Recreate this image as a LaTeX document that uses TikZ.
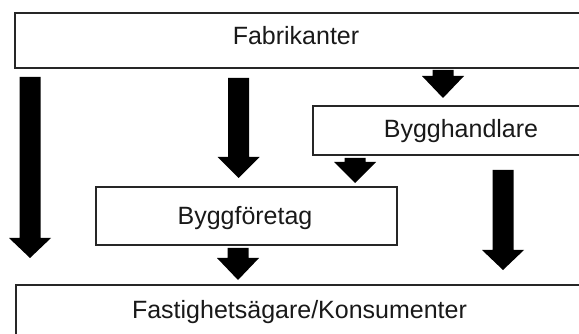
\documentclass[tikz,border=0pt]{standalone}
\usepackage{fontspec}
\setmainfont{Liberation Sans}
\newcommand\blkarrow[4]{%
  \fill[black] (#1-10.5,#2) -- (#1+10.5,#2) -- (#1+10.5,#3) -- (#1+21,#3)
    -- (#1,#4) -- (#1-21,#3) -- (#1-10.5,#3) -- cycle;}
\begin{document}
\begin{tikzpicture}[x=1pt,y=-1pt,
  box/.style={draw=black!85,line width=1.9pt,rectangle,inner sep=0pt,outer sep=0pt,anchor=north west},
  lbl/.style={anchor=base,font=\fontsize{25}{30}\selectfont,inner sep=0pt,text=black!90}]
\useasboundingbox (0,0) rectangle (579,334);
\fill[white] (0,0) rectangle (579,334);
% boxes
\node[box,minimum width=600pt,minimum height=55pt] (fab) at (15,12.7) {};
\node[box,minimum width=320pt,minimum height=49pt] (handel) at (313,106) {};
\node[box,minimum width=301pt,minimum height=58pt] (foretag) at (96,187) {};
\node[box,minimum width=600pt,minimum height=60pt] (fast) at (16,285) {};
% labels
\node[lbl] (tfab) at (296,45) {Fabrikanter};
\node[lbl] (thandel) at (461,138) {Bygghandlare};
\node[lbl] (tforetag) at (245,225) {Byggföretag};
\node[lbl] (tfast) at (299.5,318) {Fastighetsägare/Konsumenter};
% block arrows
\blkarrow{30}{77}{238}{258}
\blkarrow{238.5}{78}{157}{178}
\blkarrow{443}{70}{76}{98}
\blkarrow{355}{158}{162}{183}
\blkarrow{238}{248}{258}{280}
\blkarrow{503}{170}{250}{270}
\end{tikzpicture}
\end{document}
